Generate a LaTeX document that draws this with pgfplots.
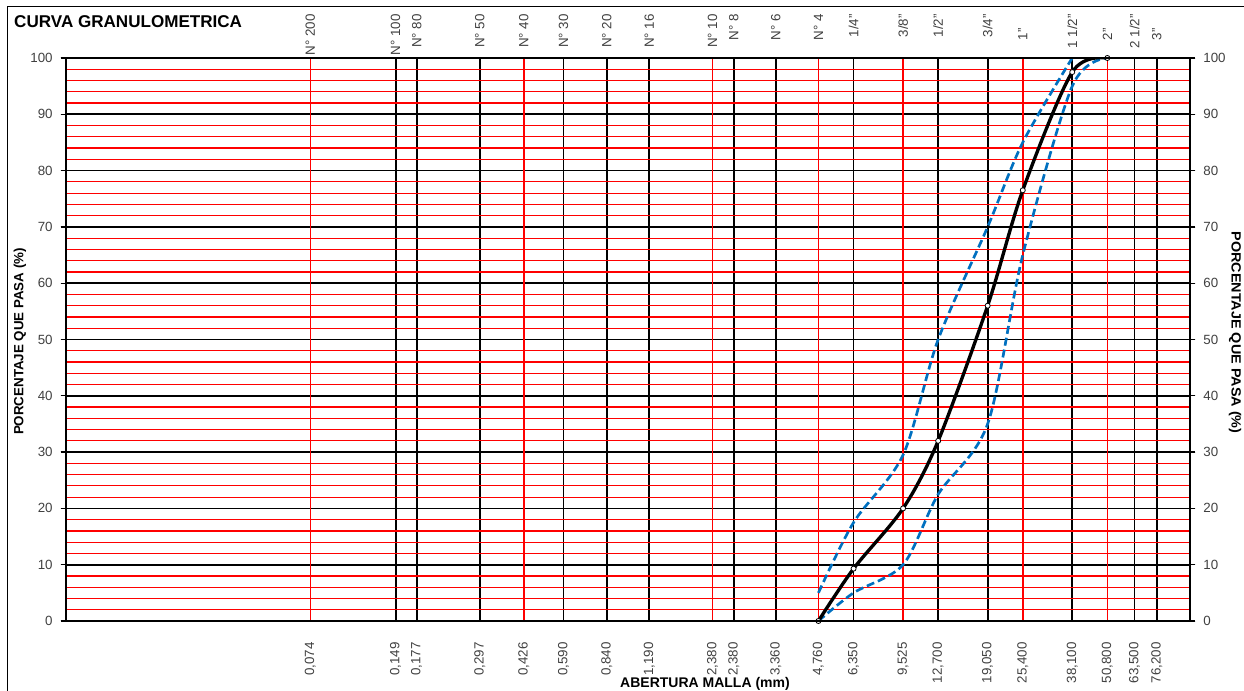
\documentclass[border=0pt]{standalone}
\usepackage{pgfplots}
\pgfplotsset{compat=1.18}
\usepackage{fontspec}
\setmainfont{Liberation Sans}

\definecolor{limazul}{RGB}{0,112,192}
\definecolor{gristxt}{RGB}{64,64,64}

\begin{document}
\begin{tikzpicture}
\useasboundingbox (0,0) rectangle (933pt,518.25pt);
\draw[line width=0.75pt] (5.25pt,0pt) -- (5.25pt,513pt) -- (933pt,513pt);

% 1) black grid, bottom labels of the black sieves, left y labels
\begin{axis}[
  scale only axis, width=843pt, height=422.25pt,
  at={(49.5pt,52.5pt)}, anchor=south west,
  xmode=log, xmin=0.01, xmax=100, ymin=0, ymax=100,
  axis line style={draw=none},
  tick align=outside, major tick length=4pt, minor tick length=0pt,
  xtick style={draw=none},
  ytick={0,10,...,100},
  ytick style={line width=1pt, black},
  xtick={0.149,0.177,0.297,0.590,0.840,1.190,2.380,3.360,6.350,12.7,19.05,38.1,63.5,76.2},
  xticklabels={{0,149},{0,177},{0,297},{0,590},{0,840},{1,190},{2,380},{3,360},{6,350},{12,700},{19,050},{38,100},{63,500},{76,200}},
  xticklabel style={rotate=90, anchor=east, inner sep=0pt},
  xticklabel shift=11.8pt,
  yticklabel shift=2.5pt,
  tick label style={font=\fontsize{10}{12}\selectfont, text=gristxt},
  xmajorgrids, ymajorgrids, yminorgrids,
  minor y tick num=4,
  major grid style={black, line width=1.3pt},
  minor grid style={red, line width=0.9pt},
  /pgf/number format/assume math mode=true,
]
\end{axis}

% 2) red grid lines, bottom labels of the red sieves, the curves
\begin{axis}[
  scale only axis, width=843pt, height=422.25pt,
  at={(49.5pt,52.5pt)}, anchor=south west,
  xmode=log, xmin=0.01, xmax=100, ymin=0, ymax=100,
  axis line style={draw=none},
  tick align=outside, major tick length=4pt,
  xtick style={draw=none}, ytick=\empty,
  xtick={0.074,0.426,2.0,4.76,9.525,25.4,50.8},
  xticklabels={{0,074},{0,426},{2,380},{4,760},{9,525},{25,400},{50,800}},
  xticklabel style={rotate=90, anchor=east, inner sep=0pt},
  xticklabel shift=11.8pt,
  tick label style={font=\fontsize{10}{12}\selectfont, text=gristxt},
  xmajorgrids,
  major grid style={red, line width=1.1pt},
  clip mode=individual,
]
% limite superior
\addplot[limazul, line width=2pt, dash pattern=on 6pt off 3pt, smooth, tension=0.5]
  coordinates {(4.76,5) (6.35,17.5) (9.525,29.5) (12.7,50) (19.05,70) (25.4,85) (38.1,100)};
% limite inferior
\addplot[limazul, line width=2pt, dash pattern=on 6pt off 3pt, smooth, tension=0.5]
  coordinates {(4.76,0) (6.35,5) (9.525,10) (12.7,22.5) (19.05,35) (25.4,65) (38.1,95) (50.8,100)};
% curva del material
\addplot[black, line width=2.5pt, smooth, tension=0.5,
  mark=*, mark size=1.9pt, mark options={fill=white, draw=black, line width=0.6pt}]
  coordinates {(4.76,0) (6.35,9.3) (9.525,20) (12.7,32) (19.05,56) (25.4,76.5) (38.1,97.5) (50.8,100)};

\node[anchor=west, inner sep=0pt, font=\fontsize{12.8}{15}\selectfont\bfseries]
  at (axis description cs:-0.0463,1.064) {CURVA GRANULOMETRICA};
\node[rotate=90, font=\fontsize{10}{12}\selectfont\bfseries]
  at (axis description cs:-0.0409,0.4964) {PORCENTAJE QUE PASA  (\%)};
\node[rotate=-90, xscale=1.08, font=\fontsize{10}{12}\selectfont\bfseries]
  at (axis description cs:1.040,0.5124) {PORCENTAJE QUE PASA  (\%)};
\node[font=\fontsize{10.5}{12}\selectfont\bfseries]
  at (axis description cs:0.5685,-0.1125) {ABERTURA MALLA (mm)};
\end{axis}

% 3) frame, y ticks, top sieve names, right y labels
\begin{axis}[
  scale only axis, width=843pt, height=422.25pt,
  at={(49.5pt,52.5pt)}, anchor=south west,
  xmode=log, xmin=0.01, xmax=100, ymin=0, ymax=100,
  axis line style={line width=1.5pt},
  tick align=outside, major tick length=4pt,
  xtick style={draw=none},
  ytick={0,10,...,100},
  ytick style={line width=1pt, black},
  xtick={0.074,0.149,0.177,0.297,0.426,0.590,0.840,1.190,2.0,2.380,3.360,4.76,6.35,9.525,12.7,19.05,25.4,38.1,50.8,63.5,76.2},
  xticklabels={N° 200,N° 100,N° 80,N° 50,N° 40,N° 30,N° 20,N° 16,N° 10,N° 8,N° 6,N° 4,
    1/4",3/8",1/2",3/4",\makebox[19.5pt][l]{1"},1 1/2",\makebox[19.5pt][l]{2"},2 1/2",\makebox[19.5pt][l]{3"}},
  xticklabel pos=right, yticklabel pos=right,
  xticklabel style={rotate=90, anchor=east, inner sep=0pt},
  xticklabel shift=29pt,
  yticklabel shift=2.5pt,
  tick label style={font=\fontsize{10}{12}\selectfont, text=gristxt},
  /pgf/number format/assume math mode=true,
]
\end{axis}
\end{tikzpicture}
\end{document}
